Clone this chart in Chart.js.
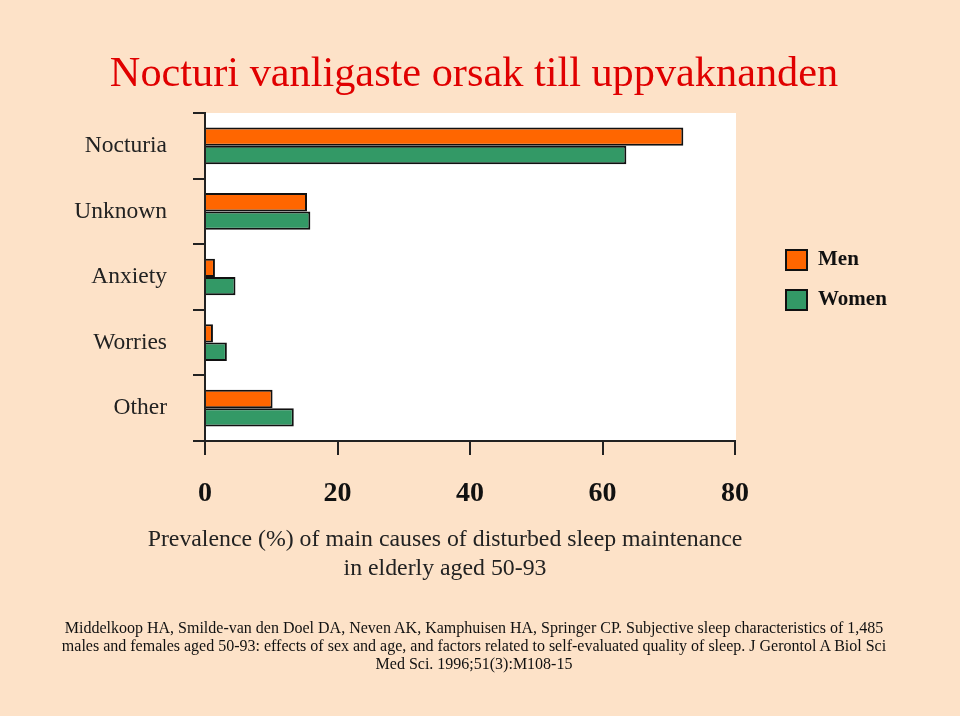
<!DOCTYPE html>
<html>
<head>
<meta charset="utf-8">
<script src="https://cdn.jsdelivr.net/npm/chart.js@4"></script>
<style>
  html, body { margin: 0; padding: 0; }
  body { width: 960px; height: 716px; background: #FDE2C8; position: relative; overflow: hidden; font-family: "Liberation Serif", "Times New Roman", serif; }
  #wrap { position: absolute; left: 0; top: 0; width: 960px; height: 716px; }
  .txt { position: absolute; text-align: center; white-space: nowrap; }
  #title { left: 0; width: 948px; top: 47px; font-size: 42.3px; color: #E00000; line-height: 50px; }
  #xtitle { left: 0; width: 890px; top: 524px; font-size: 23.8px; color: #222; line-height: 29px; }
  #cite { left: 0; width: 948px; top: 619px; font-size: 16px; color: #111; line-height: 18px; }
</style>
</head>
<body>
<div id="wrap"><canvas id="c" width="960" height="716"></canvas></div>
<div id="title" class="txt">Nocturi vanligaste orsak till uppvaknanden</div>
<div id="xtitle" class="txt">Prevalence (%) of main causes of disturbed sleep maintenance<br>in elderly aged 50-93</div>
<div id="cite" class="txt">Middelkoop HA, Smilde-van den Doel DA, Neven AK, Kamphuisen HA, Springer CP. Subjective sleep characteristics of 1,485<br>males and females aged 50-93: effects of sex and age, and factors related to self-evaluated quality of sleep. J Gerontol A Biol Sci<br>Med Sci. 1996;51(3):M108-15</div>
<script>
const categories = ["Nocturia", "Unknown", "Anxiety", "Worries", "Other"];
const menValues = [72.2, 15.4, 1.5, 1.2, 10.2];
const womenValues = [63.6, 15.9, 4.6, 3.3, 13.4];
const seriesNames = ["Men", "Women"];
const xTicks = [0, 20, 40, 60, 80];

const plotBg = {
  id: 'plotBg',
  beforeDraw(chart) {
    const {ctx, chartArea: a} = chart;
    ctx.save();
    ctx.fillStyle = '#FFFFFF';
    ctx.fillRect(a.left, a.top, a.right - a.left + 1, a.bottom - a.top);
    ctx.restore();
  }
};

const customLegend = {
  id: 'customLegend',
  afterDraw(chart) {
    const ctx = chart.ctx;
    ctx.save();
    chart.data.datasets.forEach((ds, i) => {
      const y = 250 + i * 40;
      ctx.fillStyle = ds.backgroundColor;
      ctx.fillRect(786, y, 21, 20);
      ctx.strokeStyle = '#111';
      ctx.lineWidth = 2;
      ctx.strokeRect(786, y, 21, 20);
      ctx.fillStyle = '#111';
      ctx.font = 'bold 21px "Liberation Serif", serif';
      ctx.textBaseline = 'middle';
      ctx.textAlign = 'left';
      ctx.fillText(ds.label, 818, y + 10);
    });
    ctx.restore();
  }
};

new Chart(document.getElementById('c'), {
  type: 'bar',
  data: {
    labels: categories,
    datasets: [
      { label: seriesNames[0], data: menValues, backgroundColor: '#FF6600', borderColor: '#111', borderWidth: 2, categoryPercentage: 0.56, barPercentage: 1.0 },
      { label: seriesNames[1], data: womenValues, backgroundColor: '#339966', borderColor: '#111', borderWidth: 2, categoryPercentage: 0.56, barPercentage: 1.0 }
    ]
  },
  options: {
    indexAxis: 'y',
    responsive: false,
    animation: false,
    devicePixelRatio: 1,
    layout: { padding: { left: 0, top: 113, right: 225, bottom: 0 } },
    plugins: { legend: { display: false }, tooltip: { enabled: false }, title: { display: false } },
    scales: {
      x: {
        min: 0, max: 80,
        afterBuildTicks(scale) { scale.ticks = xTicks.map(v => ({ value: v })); },
        afterFit(scale) { scale.height = 275; },
        ticks: { color: '#111', font: { family: '"Liberation Serif", serif', size: 28, weight: 'bold' }, padding: 22 },
        grid: { drawOnChartArea: false, drawTicks: true, tickLength: 14, color: '#222', lineWidth: 2 },
        border: { display: true, color: '#222', width: 2 }
      },
      y: {
        afterFit(scale) { scale.width = 205; },
        ticks: { color: '#222', font: { family: '"Liberation Serif", serif', size: 23.5 }, padding: 26 },
        grid: { offset: true, drawOnChartArea: false, drawTicks: true, tickLength: 12, color: '#222', lineWidth: 2 },
        border: { display: true, color: '#222', width: 2 }
      }
    }
  },
  plugins: [plotBg, customLegend]
});
</script>
</body>
</html>
